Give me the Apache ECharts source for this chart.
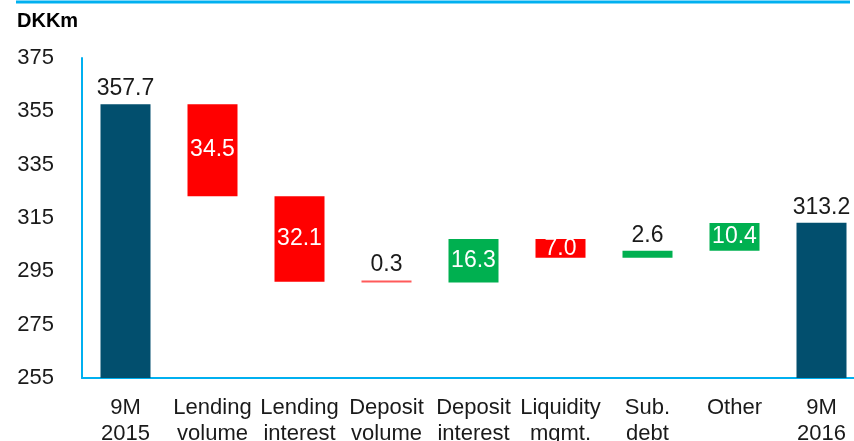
<!DOCTYPE html>
<html><head><meta charset="utf-8">
<script src="https://cdn.jsdelivr.net/npm/echarts@6/dist/echarts.min.js"></script>
<style>html,body{margin:0;padding:0;background:#fff}#c{width:854px;height:441px}</style>
</head><body><div id="c"></div>
<script>
var categories = ['9M\n2015','Lending\nvolume','Lending\ninterest','Deposit\nvolume','Deposit\ninterest','Liquidity\nmgmt.','Sub.\ndebt','Other','9M\n2016'];
var totals = [357.7, null, null, null, null, null, null, null, 313.2];
var changes = [null, -34.5, -32.1, -0.3, 16.3, -7.0, 2.6, 10.4, null];
var labelInside = [false, true, true, false, true, true, false, true, false];
var yTicks = {min: 255, max: 375, interval: 20};

var BLUE = '#024f6e', RED = '#ff0000', GREEN = '#00b050';
var base = [], body = [];
var running = 0;
for (var i = 0; i < categories.length; i++) {
  if (totals[i] !== null) {
    running = totals[i];
    base.push(0);
    body.push({value: totals[i], itemStyle: {color: BLUE}, label: {position: 'top', color: '#1a1a1a', formatter: totals[i].toFixed(1)}});
  } else {
    var c = changes[i];
    var lo = c < 0 ? running + c : running;
    base.push(lo);
    var col = c < 0 ? (Math.abs(c) < 1 ? '#ff5a5a' : RED) : GREEN;
    body.push({value: Math.abs(c), itemStyle: {color: col},
      label: labelInside[i] ? {position: 'inside', color: '#fff', formatter: Math.abs(c).toFixed(1)} : {position: 'top', color: '#1a1a1a', formatter: Math.abs(c).toFixed(1)}});
    running += c;
  }
}
var chart = echarts.init(document.getElementById('c'));
chart.setOption({
  animation: false,
  grid: {left: 82, top: 58, bottom: 63, width: 783, containLabel: false, outerBoundsMode: 'none'},
  xAxis: {type: 'category', data: categories,
    axisLine: {lineStyle: {color: '#00b0f0', width: 2}},
    axisTick: {show: false},
    axisLabel: {interval: 0, fontFamily: 'Liberation Sans', fontSize: 22, lineHeight: 26, color: '#1a1a1a', margin: 17}},
  yAxis: {type: 'value', min: yTicks.min, max: yTicks.max, interval: yTicks.interval,
    splitLine: {show: false},
    axisLine: {show: true, lineStyle: {color: '#00b0f0', width: 2}},
    axisTick: {show: false},
    axisLabel: {fontFamily: 'Liberation Sans', fontSize: 22, color: '#1a1a1a', margin: 28, align: 'right', verticalAlign: 'middle', padding: [0,0,3,0]}},
  graphic: [
    {type: 'line', shape: {x1: 16, y1: 2, x2: 850, y2: 2}, style: {stroke: '#00b0f0', lineWidth: 3}},
    {type: 'text', left: 17, top: 11, style: {text: 'DKKm', fontFamily: 'Liberation Sans', fontWeight: 'bold', fontSize: 20, fill: '#000'}}
  ],
  series: [
    {type: 'bar', stack: 'w', data: base, barWidth: 50, itemStyle: {color: 'transparent'}, silent: true},
    {type: 'bar', stack: 'w', data: body, barWidth: 50, barMinHeight: 2,
      label: {show: true, fontFamily: 'Liberation Sans', fontSize: 23, distance: 4}}
  ]
});
</script></body></html>
